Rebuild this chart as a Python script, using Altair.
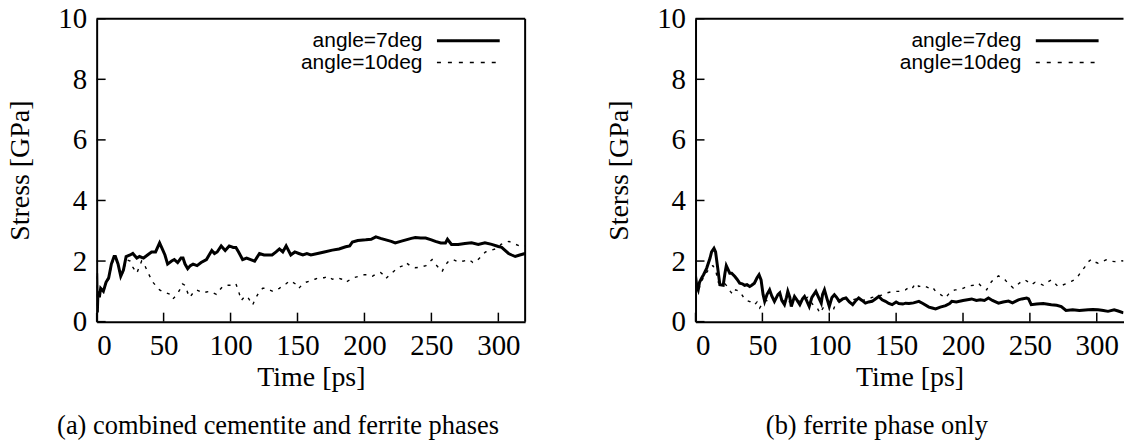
import altair as alt
import pandas as pd

X_TICKS = [0, 50, 100, 150, 200, 250, 300]
Y_TICKS = [0, 2, 4, 6, 8, 10]
SERIES = ["angle=7deg", "angle=10deg"]
CAPTIONS = ["(a) combined cementite and ferrite phases", "(b) ferrite phase only"]
Y_TITLES = ["Stress [GPa]", "Sterss [GPa]"]
X_TITLE = "Time [ps]"

# ---- panel (a): combined cementite and ferrite phases ----
a7_t = [0, 0.5, 1, 2, 3, 5, 7, 9, 11, 13, 14, 16, 18, 20, 22, 25, 27, 30, 32, 35, 38, 41, 44, 47, 49,
        51, 53, 56, 58, 60.5, 63, 64.5, 66, 68, 70, 72, 75, 78, 82, 84, 86, 88, 90, 93, 96, 99, 102,
        104, 106, 109, 112, 115, 118, 121.6, 125, 128, 131, 134, 136.5, 139, 141.5, 145, 148, 151,
        154, 157, 160, 165, 170, 176, 181, 186, 189, 191, 195, 201, 205, 208.5, 212, 216, 220, 223,
        227, 231, 235, 238, 242, 245.7, 250, 253, 257, 260.5, 262, 265, 270, 275, 280, 285, 290, 295,
        300, 302.5, 305, 307.6, 310, 312.6, 316, 320]
a7_v = [1.6, 0.3, 1.0, 0.8, 1.1, 1.0, 1.3, 1.45, 1.9, 2.15, 2.15, 1.9, 1.5, 1.7, 2.15, 2.2, 2.25, 2.1,
        2.15, 2.1, 2.2, 2.3, 2.3, 2.6, 2.4, 2.2, 1.9, 2.0, 2.05, 1.95, 2.1, 2.1, 1.9, 1.75, 1.85, 1.9,
        1.85, 1.95, 2.05, 2.2, 2.35, 2.25, 2.3, 2.5, 2.35, 2.5, 2.45, 2.45, 2.3, 2.05, 2.1, 2.05, 2.0,
        2.25, 2.2, 2.2, 2.2, 2.3, 2.4, 2.3, 2.5, 2.2, 2.3, 2.25, 2.2, 2.25, 2.2, 2.25, 2.3, 2.36, 2.4,
        2.47, 2.5, 2.63, 2.68, 2.7, 2.72, 2.8, 2.75, 2.7, 2.65, 2.6, 2.65, 2.7, 2.75, 2.78, 2.76, 2.76,
        2.7, 2.65, 2.6, 2.6, 2.72, 2.55, 2.55, 2.58, 2.6, 2.55, 2.6, 2.55, 2.48, 2.45, 2.35, 2.25, 2.2,
        2.15, 2.2, 2.25]

a10_t = [0, 0.5, 1, 2, 3, 5, 7, 9, 11, 13, 14, 16, 18, 20, 22, 25, 27, 30, 33.6, 36, 38.5, 42, 45,
         47, 50, 52, 55, 57, 60, 62, 64, 66, 68, 69.6, 72, 74.5, 77, 79.5, 82, 85, 87, 89.4, 92, 94,
         97, 99, 102, 104, 106, 108, 111, 113, 116.5, 119, 121.7, 124, 126.6, 129, 131.6, 134, 136.5,
         139, 141.5, 144, 146.5, 150, 151, 153, 156.4, 160, 163, 166, 170, 173, 176, 180, 183, 186,
         189, 192, 196, 200, 203, 206, 209.5, 212, 214, 216, 219, 223, 226, 229, 231, 234, 238, 242,
         246, 248, 250.5, 253, 256, 258, 260, 263, 266, 270, 274, 278, 281, 283, 286, 288, 290.4, 294,
         297.8, 300, 302, 305, 308, 310, 313, 316, 320]
a10_v = [1.5, 0.3, 0.9, 0.8, 1.05, 1.0, 1.25, 1.4, 1.85, 2.1, 2.1, 1.85, 1.5, 1.65, 2.05, 2.0, 1.8, 1.6,
         2.0, 1.85, 1.6, 1.3, 1.15, 1.05, 0.98, 0.95, 0.9, 0.75, 0.9, 1.05, 1.25, 1.2, 0.95, 0.8, 0.95,
         1.05, 1.0, 0.95, 0.98, 1.0, 0.95, 0.9, 1.05, 1.15, 1.2, 1.2, 1.2, 1.25, 1.0, 0.7, 0.85, 0.8,
         0.55, 0.8, 1.0, 1.1, 1.1, 1.05, 1.0, 1.05, 1.1, 1.2, 1.25, 1.35, 1.3, 1.2, 1.1, 1.2, 1.3, 1.35,
         1.4, 1.45, 1.45, 1.5, 1.4, 1.45, 1.4, 1.3, 1.38, 1.45, 1.5, 1.55, 1.55, 1.5, 1.6, 1.62, 1.55,
         1.42, 1.55, 1.7, 1.8, 1.85, 1.95, 1.85, 1.78, 1.8, 1.85, 1.95, 2.05, 1.9, 1.75, 1.65, 1.85,
         2.0, 2.05, 1.97, 2.0, 2.05, 1.95, 1.97, 2.1, 2.2, 2.3, 2.35, 2.4, 2.45, 2.55, 2.62, 2.65, 2.6,
         2.55, 2.5, 2.5]

# ---- panel (b): ferrite phase only ----
b7_t = [0, 1, 2, 3, 4.6, 6, 8.3, 10.8, 12, 13.8, 15, 16.5, 18.2, 20.7, 22, 23, 25.6, 27, 29.4, 31, 33,
        35, 36.7, 38.5, 40.5, 42, 44, 46, 47.5, 49, 50.5, 51.7, 53.5, 55.4, 57, 59, 61.6, 63, 64.5,
        66.5, 68, 69, 70.5, 71.6, 73, 74, 76, 78, 80, 81.5, 83, 85, 87, 90, 92, 94, 95, 96.4, 98, 100,
        102, 103.8, 105.5, 107.5, 110, 112.5, 115, 117.5, 120, 122, 124.5, 127, 129.5, 132, 134.5, 137,
        139.5, 142, 144.5, 147, 150, 152, 155, 157, 159.6, 163, 167, 170, 174.5, 177, 179.5, 183, 187,
        190, 191.6, 195, 200, 206.5, 210, 213, 216, 219, 222, 226.5, 230, 234, 237, 241.4, 244, 247.6,
        249, 251, 255, 260, 266, 270, 273.5, 277, 282, 287, 293.6, 297, 301, 305, 308.4, 313, 316, 320]
b7_v = [1.5, 1.16, 1.05, 1.3, 1.44, 1.55, 1.76, 2.09, 2.3, 2.42, 2.3, 1.8, 1.22, 1.2, 1.6, 1.85, 1.6,
        1.6, 1.49, 1.4, 1.27, 1.25, 1.2, 1.22, 1.16, 1.2, 1.27, 1.45, 1.55, 1.38, 0.9, 0.67, 0.9, 1.05,
        0.85, 0.67, 0.89, 0.95, 0.7, 0.56, 0.8, 1.0, 0.8, 0.5, 0.7, 0.83, 0.7, 0.56, 0.75, 0.83, 0.7,
        0.5, 0.8, 1.0, 0.8, 0.61, 0.9, 1.05, 0.8, 0.5, 0.8, 0.89, 0.8, 0.67, 0.75, 0.78, 0.65, 0.56,
        0.7, 0.78, 0.7, 0.61, 0.65, 0.67, 0.75, 0.83, 0.72, 0.67, 0.6, 0.56, 0.65, 0.6, 0.58, 0.61,
        0.6, 0.62, 0.67, 0.6, 0.48, 0.45, 0.42, 0.48, 0.53, 0.6, 0.67, 0.65, 0.7, 0.75, 0.7, 0.72, 0.7,
        0.78, 0.7, 0.61, 0.65, 0.68, 0.62, 0.72, 0.75, 0.78, 0.75, 0.56, 0.58, 0.6, 0.56, 0.54, 0.5,
        0.37, 0.39, 0.37, 0.39, 0.4, 0.39, 0.37, 0.34, 0.39, 0.35, 0.29]

b10_t = [0, 2, 4.6, 8, 11, 13, 15, 17, 19, 22, 24, 26, 28, 30, 33, 36, 38, 41, 44, 46, 48, 50, 53, 56,
         60, 64, 68, 72, 76, 80, 84, 88, 91, 93, 96, 99, 101, 103, 105, 108, 112, 116, 120, 124, 128,
         132, 136, 140, 143, 146, 150, 152, 155, 157, 160, 162, 164.6, 167, 170, 174.5, 177, 179.5,
         183, 187, 189, 191.6, 194, 196.6, 200, 204, 208, 211.5, 214, 217.7, 220, 223, 226.5, 229,
         231.4, 234, 237.6, 240, 243, 246.3, 249, 251, 254, 257, 260, 263, 266, 268, 271, 274, 277,
         281, 284, 286, 288.5, 291, 293, 296, 298, 301, 304, 307, 310, 313.6, 317, 320]
b10_v = [1.2, 1.0, 1.35, 1.6, 1.8, 1.85, 1.7, 1.3, 1.2, 1.25, 1.15, 1.0, 0.9, 1.05, 1.0, 0.8, 0.7, 0.65,
         0.55, 0.65, 0.45, 0.6, 0.7, 0.65, 0.7, 0.75, 0.6, 0.7, 0.65, 0.75, 0.8, 0.55, 0.45, 0.28, 0.5,
         0.6, 0.45, 0.39, 0.6, 0.75, 0.8, 0.7, 0.75, 0.7, 0.72, 0.8, 0.85, 0.88, 0.95, 0.98, 1.0, 1.0,
         1.05, 1.05, 1.15, 1.1, 1.27, 1.16, 1.2, 1.11, 1.15, 1.0, 0.9, 0.78, 0.9, 1.0, 1.05, 1.05, 1.1,
         1.18, 1.2, 1.27, 1.15, 1.05, 1.25, 1.4, 1.51, 1.45, 1.38, 1.25, 1.11, 1.2, 1.3, 1.38, 1.3,
         1.22, 1.3, 1.27, 1.2, 1.3, 1.38, 1.3, 1.16, 1.2, 1.25, 1.33, 1.4, 1.5, 1.66, 1.8, 1.95, 2.06,
         1.98, 1.93, 1.98, 2.04, 2.0, 1.98, 2.02, 2.0]

H = 304
SERIF = "Liberation Serif"
SANS = "Liberation Sans"
DASH = [3, 6]


def panel(t7, v7, t10, v10, ytitle, caption, width, right_border):
    d7 = pd.DataFrame({"t": t7, "v": v7})
    d10 = pd.DataFrame({"t": t10, "v": v10})
    xs = alt.Scale(domain=[0, 320], nice=False, zero=False)
    ys = alt.Scale(domain=[0, 10], nice=False)
    x_ax = alt.Axis(values=X_TICKS, title=X_TITLE, ticks=False, grid=False,
                    labelPadding=10, titlePadding=3)
    y_ax = alt.Axis(values=Y_TICKS, title=ytitle, ticks=False, grid=False,
                    labelPadding=10, titlePadding=23)
    X = alt.X("t:Q", scale=xs, axis=x_ax)
    Y = alt.Y("v:Q", scale=ys, axis=y_ax)

    solid = alt.Chart(d7).mark_line(color="black", strokeWidth=3, clip=True).encode(x=X, y=Y)
    dashed = alt.Chart(d10).mark_line(color="black", strokeWidth=1.4, strokeDash=DASH, clip=True).encode(x=X, y=Y)
    xt = alt.Chart(pd.DataFrame({"t": X_TICKS})).mark_rule(color="black", strokeWidth=1.5).encode(
        x=X, y=alt.value(H), y2=alt.value(H - 9)
    )
    yt = alt.Chart(pd.DataFrame({"v": Y_TICKS})).mark_rule(color="black", strokeWidth=1.5).encode(
        y=Y, x=alt.value(0), x2=alt.value(9)
    )
    one = pd.DataFrame({"k": [0]})
    top = alt.Chart(one).mark_rule(color="black", strokeWidth=2).encode(
        x=alt.value(0), x2=alt.value(width), y=alt.value(0)
    )
    layers = [solid, dashed, xt, yt, top]
    if right_border:
        layers.append(alt.Chart(one).mark_rule(color="black", strokeWidth=2).encode(
            x=alt.value(width), y=alt.value(0), y2=alt.value(H)))
    # legend
    for i, (name, dash, sw) in enumerate([(SERIES[0], [1, 0], 3), (SERIES[1], [4, 7], 1.4)]):
        yy = 22 + 22 * i
        layers.append(alt.Chart(pd.DataFrame({"label": [name]})).mark_text(
            align="right", baseline="middle", font=SANS, fontSize=21, color="black").encode(
            text="label:N", x=alt.value(327), y=alt.value(yy)))
        layers.append(alt.Chart(one).mark_rule(color="black", strokeWidth=sw, strokeDash=dash).encode(
            x=alt.value(341.5), x2=alt.value(404.5), y=alt.value(yy)))
    layers.append(alt.Chart(pd.DataFrame({"label": [caption]})).mark_text(
        align="center", baseline="middle", font=SERIF, fontSize=26.5, color="black").encode(
        text="label:N", x=alt.value(182), y=alt.value(409)))
    return alt.layer(*layers).properties(width=width, height=H)


left = panel(a7_t, a7_v, a10_t, a10_v, Y_TITLES[0], CAPTIONS[0], 430, True)
right = panel(b7_t, b7_v, b10_t, b10_v, Y_TITLES[1], CAPTIONS[1], 429.5, False)

chart = alt.hconcat(left, right, spacing=80).properties(
    padding={"left": 7, "top": 4, "right": 0, "bottom": 0}
).configure_view(stroke=None).configure_axis(
    domainColor="black", domainWidth=2,
    labelFont=SERIF, labelFontSize=29, labelColor="black",
    titleFont=SERIF, titleFontSize=28, titleFontWeight="normal", titleColor="black",
)

chart.save("out.html", embed_options={"renderer": "svg", "actions": False})
